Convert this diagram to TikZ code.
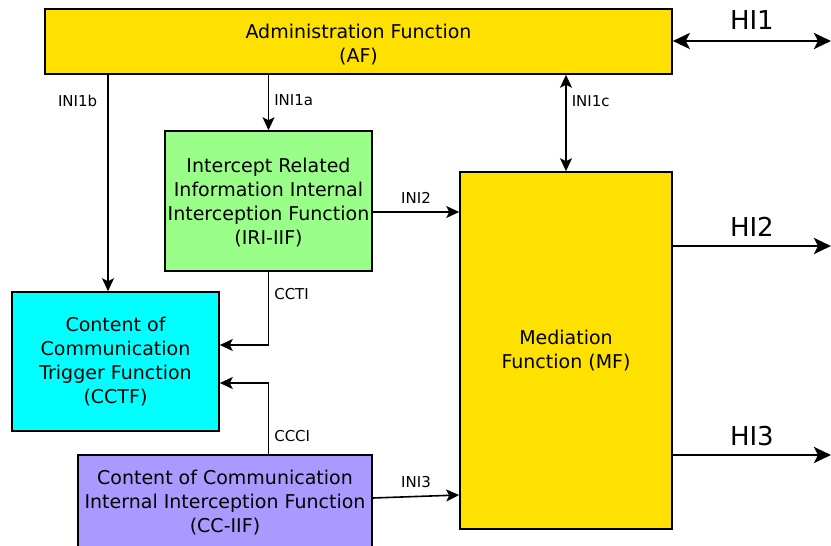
\documentclass[tikz,border=0pt]{standalone}
\usepackage{fontspec}
\setmainfont{DejaVu Sans}
\usetikzlibrary{arrows.meta}
\definecolor{fnyellow}{HTML}{FFE100}
\definecolor{irigreen}{HTML}{99FF88}
\definecolor{ctcyan}{HTML}{00FFFF}
\definecolor{ccpurple}{HTML}{AA99FF}
\tikzset{
  fbox/.style={draw=black, line width=1.6pt, align=center, inner sep=0pt,
    font=\fontsize{19}{24}\selectfont},
  tip/.tip={Stealth[length=13pt,width=12pt,inset=3pt]},
  bigtip/.tip={Stealth[length=17pt,width=16pt,inset=4pt]},
  conn/.style={line width=1.6pt, -tip},
  biconn/.style={line width=1.6pt, tip-tip},
  hiconn/.style={line width=2.8pt, -bigtip},
  hibiconn/.style={line width=2.8pt, bigtip-bigtip},
  lbl/.style={font=\fontsize{15}{17}\selectfont, inner sep=0pt},
  hilbl/.style={font=\fontsize{26}{30}\selectfont, inner sep=0pt}
}
\begin{document}
\begin{tikzpicture}[x=1pt, y=-1pt]
\useasboundingbox (0,0) rectangle (831,546);

% functional blocks
\node[fbox, fill=fnyellow, minimum width=627pt, minimum height=65pt] (af) at (358.5,41.5)
  {\rule{0pt}{21pt}Administration Function\\(AF)};
\node[fbox, fill=irigreen, minimum width=207pt, minimum height=140pt] (iri) at (268.5,201)
  {\rule{0pt}{18pt}Intercept Related\\Information Internal\\Interception Function\\(IRI-IIF)};
\node[fbox, fill=ctcyan, minimum width=207pt, minimum height=139pt] (cctf) at (115.5,361.5)
  {Content of\\Communication\\Trigger Function\\(CCTF)};
\node[fbox, fill=ccpurple, minimum width=294pt, minimum height=96pt, anchor=north] (cciif) at (225,454)
  {Content of Communication\\Internal Interception Function\\(CC-IIF)};
\node[fbox, fill=fnyellow, minimum width=212pt, minimum height=357pt] (mf) at (566,350.5)
  {Mediation\\Function (MF)};

% helper coordinates for connector positions
\coordinate (xb) at (108,0);
\coordinate (yini2) at (0,212);
\coordinate (ycct) at (0,345);
\coordinate (yccc) at (0,383);
\coordinate (yini3a) at (0,498);
\coordinate (yini3b) at (0,495);
\coordinate (hiend) at (831,0);
\coordinate (yhi1) at (0,41);
\coordinate (yhi2) at (0,246);
\coordinate (yhi3) at (0,455);

% internal interfaces
\draw[conn] (af.south -| xb) -- node[lbl, pos=0.12, left=10pt] {INI1b} (cctf.north -| xb);
\draw[conn] (af.south -| iri.north) -- node[lbl, pos=0.45, right=5pt] {INI1a} (iri.north);
\draw[biconn] (af.south -| mf.north) -- node[lbl, pos=0.27, right=5pt] {INI1c} (mf.north);
\draw[conn] (iri.east |- yini2) -- node[lbl, above=8pt] {INI2} (mf.west |- yini2);
\draw[conn] (cciif.east |- yini3a) -- node[lbl, above=8pt] {INI3} (mf.west |- yini3b);
\draw[conn] (iri.south) -- node[lbl, pos=0.3, right=5pt] {CCTI} (iri.south |- ycct) -- (cctf.east |- ycct);
\draw[conn] (cciif.north -| iri.south) -- node[lbl, pos=0.25, right=5pt] {CCCI} (iri.south |- yccc) -- (cctf.east |- yccc);

% handover interfaces
\draw[hibiconn] (af.east |- yhi1) -- node[hilbl, above=10pt] {HI1} (hiend |- yhi1);
\draw[hiconn] (mf.east |- yhi2) -- node[hilbl, above=8pt] {HI2} (hiend |- yhi2);
\draw[hiconn] (mf.east |- yhi3) -- node[hilbl, above=8pt] {HI3} (hiend |- yhi3);
\end{tikzpicture}
\end{document}
